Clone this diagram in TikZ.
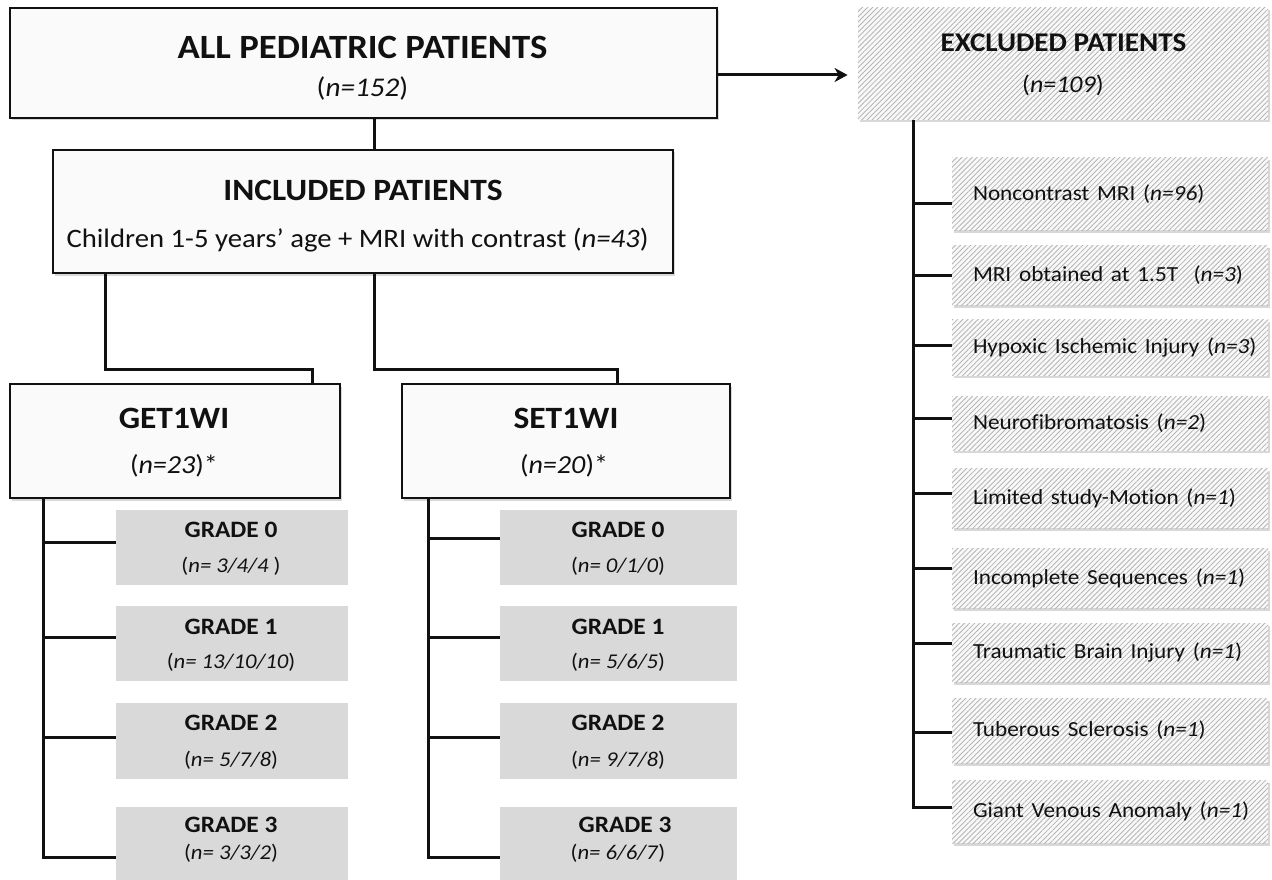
\documentclass[tikz,border=0pt]{standalone}
\usepackage{fontspec}
\usepackage{graphicx}
\setmainfont[Ligatures=NoCommon]{Carlito}
\usetikzlibrary{patterns.meta,shadows,arrows.meta}
\definecolor{ink}{HTML}{111111}
\newcommand\sx[1]{\scalebox{1.08}[1]{#1}}
\newcommand\fs[1]{\fontsize{#1}{#1}\selectfont}
\tikzset{
  shad/.style={drop shadow={shadow xshift=2pt,shadow yshift=-2.5pt,opacity=0.3,fill=gray}},
  wbox/.style={draw=ink,line width=1.6pt,fill=gray!4,inner sep=0pt,shad},
  gbox/.style={fill=gray!30,draw=none,inner sep=0pt},
  hbox/.style={inner sep=0pt,shad,preaction={fill=gray!5},
    pattern={Lines[angle=45,distance=3.6pt,line width=0.85pt]},pattern color=gray!58},
  subbox/.style={hbox,minimum width=316pt,text width=290pt,align=left,inner xsep=13pt,
    font=\fs{21.5},text=ink},
  conn/.style={draw=ink,line width=3pt},
  txt/.style={inner sep=0pt,text=ink},
  bigT/.style={txt,font=\bfseries\fs{31}},
  bigN/.style={txt,font=\fs{26}},
  grT/.style={txt,font=\bfseries\fs{23.5}},
  grN/.style={txt,font=\fs{21}},
}
\begin{document}
\begin{tikzpicture}[x=1pt,y=-1pt]
\useasboundingbox[fill=white] (0,0) rectangle (1272,880);

% main boxes
\node[wbox,minimum width=707pt,minimum height=110pt] (all) at (363.5,63) {};
\node[txt,font=\bfseries\fs{34}] (allT) at (362.5,47.5) {\sx{ALL PEDIATRIC PATIENTS}};
\node[txt,font=\fs{27}] (allN) at (362.5,88.5) {\sx{(\textit{n=152})}};

\node[hbox,minimum width=410pt,minimum height=112pt] (exc) at (1063,64) {};
\node[txt,font=\bfseries\fs{27}] (excT) at (1063.5,43) {\sx{EXCLUDED PATIENTS}};
\node[txt,font=\fs{24}] (excN) at (1063,85) {\sx{(\textit{n=109})}};

\node[wbox,minimum width=620pt,minimum height=123pt] (inc) at (363,211.5) {};
\node[txt,font=\bfseries\fs{31}] (incT) at (363,190) {\sx{INCLUDED PATIENTS}};
\node[txt,font=\fs{26.6}] (incN) at (357.5,240) {\sx{Children 1-5 years’ age + MRI with contrast (\textit{n=43})}};

\node[wbox,minimum width=330pt,minimum height=114pt] (get) at (175,441) {};
\node[bigT] (getT) at (174,418) {\sx{GET1WI}};
\node[bigN] (getN) at (174,466) {\sx{(\textit{n=23})*}};

\node[wbox,minimum width=328pt,minimum height=114pt] (set) at (566,441) {};
\node[bigT] (setT) at (566,418) {\sx{SET1WI}};
\node[bigN] (setN) at (564,466) {\sx{(\textit{n=20})*}};

% grade boxes left
\node[gbox,minimum width=232pt,minimum height=75pt] (lg0) at (232,547.5) {};
\node[gbox,minimum width=232pt,minimum height=75pt] (lg1) at (232,643.5) {};
\node[gbox,minimum width=232pt,minimum height=76pt] (lg2) at (232,741) {};
\node[gbox,minimum width=232pt,minimum height=75pt] (lg3) at (232,844.5) {};
\node[grT] (lg0T) at (231,530) {\sx{GRADE 0}};
\node[grN] (lg0N) at (231,566) {\sx{(\textit{n= 3/4/4} )}};
\node[grT] (lg1T) at (231,627) {\sx{GRADE 1}};
\node[grN] (lg1N) at (231,662) {\sx{(\textit{n= 13/10/10})}};
\node[grT] (lg2T) at (231,723) {\sx{GRADE 2}};
\node[grN] (lg2N) at (231,760) {\sx{(\textit{n= 5/7/8})}};
\node[grT] (lg3T) at (231,825) {\sx{GRADE 3}};
\node[grN] (lg3N) at (231,853) {\sx{(\textit{n= 3/3/2})}};

% grade boxes right
\node[gbox,minimum width=237pt,minimum height=75pt] (rg0) at (618.5,547.5) {};
\node[gbox,minimum width=237pt,minimum height=75pt] (rg1) at (618.5,643.5) {};
\node[gbox,minimum width=237pt,minimum height=76pt] (rg2) at (618.5,741) {};
\node[gbox,minimum width=237pt,minimum height=75pt] (rg3) at (618.5,844.5) {};
\node[grT] (rg0T) at (618,530) {\sx{GRADE 0}};
\node[grN] (rg0N) at (618,566) {\sx{(\textit{n= 0/1/0})}};
\node[grT] (rg1T) at (618,627) {\sx{GRADE 1}};
\node[grN] (rg1N) at (618,662) {\sx{(\textit{n= 5/6/5})}};
\node[grT] (rg2T) at (618,723) {\sx{GRADE 2}};
\node[grN] (rg2N) at (618,760) {\sx{(\textit{n= 9/7/8})}};
\node[grT] (rg3T) at (625,825) {\sx{GRADE 3}};
\node[grN] (rg3N) at (618,853) {\sx{(\textit{n= 6/6/7})}};

% excluded sub boxes
\node[subbox,minimum height=72pt] (nc) at (1110,194) {\hspace*{8pt}\sx{Noncontrast MRI (\textit{n=96})}};
\node[subbox,minimum height=60pt] (mr) at (1110,275) {\hspace*{8pt}\sx{MRI obtained at 1.5T\ \ (\textit{n=3})}};
\node[subbox,minimum height=56pt] (hi) at (1110,347.5) {\hspace*{8pt}\sx{Hypoxic Ischemic Injury (\textit{n=3})}};
\node[subbox,minimum height=54pt] (nf) at (1110,423.5) {\hspace*{8pt}\sx{Neurofibromatosis (\textit{n=2})}};
\node[subbox,minimum height=60pt] (lm) at (1110,498) {\hspace*{8pt}\sx{Limited study-Motion (\textit{n=1})}};
\node[subbox,minimum height=60pt] (is) at (1110,578) {\hspace*{8pt}\sx{Incomplete Sequences (\textit{n=1})}};
\node[subbox,minimum height=59pt] (tb) at (1110,652.5) {\hspace*{8pt}\sx{Traumatic Brain Injury (\textit{n=1})}};
\node[subbox,minimum height=65pt] (ts) at (1110,730.5) {\hspace*{8pt}\sx{Tuberous Sclerosis (\textit{n=1})}};
\node[subbox,minimum height=63pt] (gv) at (1110,811.5) {\hspace*{8pt}\sx{Giant Venous Anomaly (\textit{n=1})}};

% connectors
\draw[conn,-{Stealth[length=13pt,width=14pt,inset=4pt]},shorten >=10pt]
  (all.east |- 0,75) -- (exc.west |- 0,75);
\draw[conn] (all.south -| 374,0) -- (inc.north -| 374,0);

\coordinate (jl) at (312,369);
\coordinate (jr) at (617,369);
\draw[conn] (inc.south -| 105,0) |- (jl) -- (get.north -| jl);
\draw[conn] (inc.south -| 374,0) |- (jr) -- (set.north -| jr);

% left grade tree
\coordinate (vl) at (43,857);
\draw[conn] (get.south -| vl) -- (vl) -- (lg3.west |- vl);
\draw[conn] (vl |- 0,542) -- (lg0.west |- 0,542);
\draw[conn] (vl |- 0,637) -- (lg1.west |- 0,637);
\draw[conn] (vl |- 0,737) -- (lg2.west |- 0,737);

% right grade tree
\coordinate (vr) at (428,857);
\draw[conn] (set.south -| vr) -- (vr) -- (rg3.west |- vr);
\draw[conn] (vr |- 0,538) -- (rg0.west |- 0,538);
\draw[conn] (vr |- 0,637) -- (rg1.west |- 0,637);
\draw[conn] (vr |- 0,737) -- (rg2.west |- 0,737);

% excluded tree
\coordinate (ve) at (913,807);
\draw[conn] (exc.south -| ve) -- (ve) -- (gv.west |- ve);
\draw[conn] (ve |- 0,203) -- (nc.west |- 0,203);
\draw[conn] (ve |- 0,275) -- (mr.west |- 0,275);
\draw[conn] (ve |- 0,345) -- (hi.west |- 0,345);
\draw[conn] (ve |- 0,418) -- (nf.west |- 0,418);
\draw[conn] (ve |- 0,493) -- (lm.west |- 0,493);
\draw[conn] (ve |- 0,568) -- (is.west |- 0,568);
\draw[conn] (ve |- 0,643) -- (tb.west |- 0,643);
\draw[conn] (ve |- 0,732) -- (ts.west |- 0,732);
\end{tikzpicture}
\end{document}
